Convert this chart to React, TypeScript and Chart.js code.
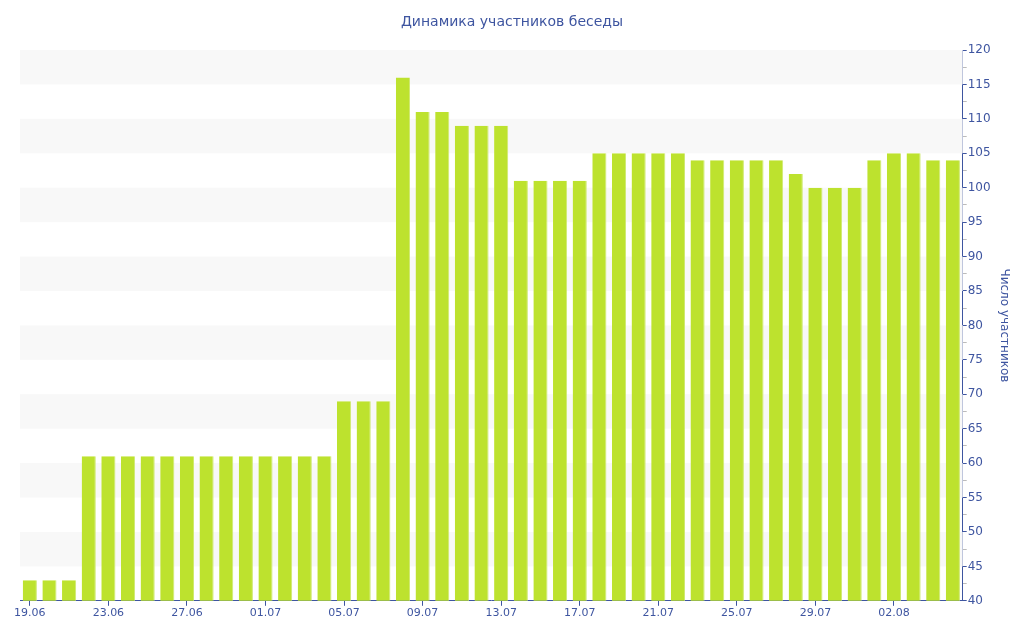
import React, { useEffect, useRef } from "react";
import { Chart, registerables } from "chart.js";

Chart.register(...registerables);

const categories: string[] = [
  "19.06", "20.06", "21.06", "22.06", "23.06", "24.06", "25.06", "26.06", "27.06", "28.06",
  "29.06", "30.06", "01.07", "02.07", "03.07", "04.07", "05.07", "06.07", "07.07", "08.07",
  "09.07", "10.07", "11.07", "12.07", "13.07", "14.07", "15.07", "16.07", "17.07", "18.07",
  "19.07", "20.07", "21.07", "22.07", "23.07", "24.07", "25.07", "26.07", "27.07", "28.07",
  "29.07", "30.07", "31.07", "01.08", "02.08", "03.08", "04.08", "05.08",
];

const members: number[] = [
  43, 43, 43, 61, 61, 61, 61, 61, 61, 61,
  61, 61, 61, 61, 61, 61, 69, 69, 69, 116,
  111, 111, 109, 109, 109, 101, 101, 101, 101, 105,
  105, 105, 105, 105, 104, 104, 104, 104, 104, 102,
  100, 100, 100, 104, 105, 105, 104, 104,
];

const bandRanges: [number, number][] = [
  [115, 120], [105, 110], [95, 100], [85, 90], [75, 80], [65, 70], [55, 60], [45, 50],
];

const TITLE = "Динамика участников беседы";
const Y_TITLE = "Число участников";
const BLUE = "#3e55a0";
const FONT = "'DejaVu Sans', Verdana, sans-serif";

const bandsPlugin = {
  id: "bands",
  beforeDatasetsDraw(chart: any) {
    const { ctx, chartArea, scales } = chart;
    const y = scales.y;
    ctx.save();
    ctx.fillStyle = "#f8f8f8";
    for (const [a, b] of bandRanges) {
      const top = y.getPixelForValue(b);
      const bot = y.getPixelForValue(a);
      ctx.fillRect(chartArea.left, top, chartArea.right - chartArea.left, bot - top);
    }
    ctx.restore();
  },
};

const titlePlugin = {
  id: "centerTitle",
  afterDraw(chart: any) {
    const { ctx, width } = chart;
    ctx.save();
    ctx.fillStyle = BLUE;
    ctx.font = `normal 14px ${FONT}`;
    ctx.textAlign = "center";
    ctx.textBaseline = "middle";
    ctx.fillText(TITLE, width / 2, 22);
    ctx.restore();
  },
};

export default function App() {
  const ref = useRef<HTMLCanvasElement>(null);
  useEffect(() => {
    document.body.style.margin = "0";
    const chart = new Chart(ref.current as HTMLCanvasElement, {
      type: "bar",
      data: {
        labels: categories,
        datasets: [
          {
            data: members,
            backgroundColor: "#bde22e",
            borderColor: "#cfe970",
            borderWidth: { right: 1, left: 0, top: 0, bottom: 0 } as any,
            barPercentage: 0.72,
            categoryPercentage: 1,
          },
        ],
      },
      options: {
        animation: false,
        responsive: false,
        maintainAspectRatio: false,
        layout: { padding: { left: 20, right: 1, top: 50, bottom: 19 } },
        plugins: {
          legend: { display: false },
          tooltip: { enabled: false },
          title: { display: false },
        },
        scales: {
          x: {
            offset: true,
            grid: {
              display: true,
              drawOnChartArea: false,
              tickLength: 5,
              offset: false,
              tickColor: (c: any) => (c.index % 4 === 0 ? BLUE : "rgba(0,0,0,0)"),
            },
            border: { color: BLUE, width: 1 },
            ticks: {
              autoSkip: false,
              maxRotation: 0,
              color: BLUE,
              padding: 1,
              font: { family: FONT, size: 11 },
              callback: (_v: any, i: number) => (i % 4 === 0 ? categories[i] : ""),
            },
          },
          y: {
            position: "right",
            min: 40,
            max: 120,
            grid: {
              display: true,
              drawOnChartArea: false,
              tickLength: 4,
              tickColor: (c: any) => (c.tick && c.tick.value % 5 === 0 ? BLUE : "#bbbbbb"),
            },
            border: { color: BLUE, width: 1 },
            ticks: {
              stepSize: 2.5,
              autoSkip: false,
              color: BLUE,
              padding: 1,
              font: { family: FONT, size: 12 },
              callback: (v: any) => (Number(v) % 5 === 0 ? String(v) : ""),
            },
            title: {
              display: true,
              text: Y_TITLE,
              color: BLUE,
              font: { family: FONT, size: 12 },
              padding: { top: 12, bottom: 5 },
            },
          },
        },
      },
      plugins: [bandsPlugin, titlePlugin],
    });
    return () => chart.destroy();
  }, []);
  return (
    <div style={{ position: "absolute", left: 0, top: 0, width: 1024, height: 640 }}>
      <canvas ref={ref} width={1024} height={640} style={{ width: 1024, height: 640 }} />
    </div>
  );
}
